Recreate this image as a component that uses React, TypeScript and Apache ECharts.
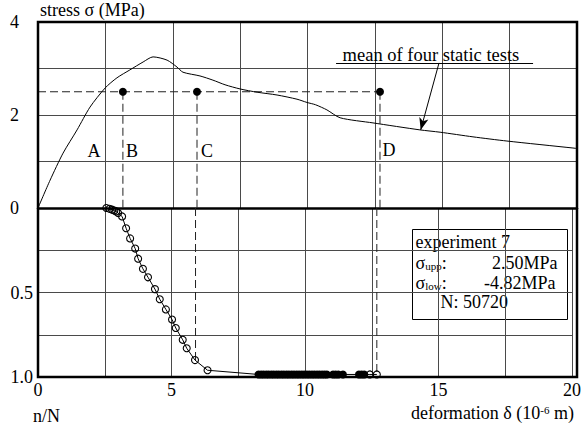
import React, { useEffect, useRef } from "react";
import * as echarts from "echarts";

// ---- data ----
// mean of four static tests: deformation (1e-6 m), stress (MPa)
const curveDelta = [0, 0.45, 0.93, 1.45, 1.93, 2.49, 2.93, 3.41, 3.9, 4.27, 4.79, 5.16, 5.38, 6.01, 6.49, 6.94, 7.5, 8.13, 8.87, 9.61, 9.98, 10.3, 10.72, 11.21, 12.43, 14.17, 14.92, 16.14, 17.4, 19.85, 20];
const curveStress = [0, 0.6, 1.18, 1.68, 2.17, 2.58, 2.8, 2.97, 3.14, 3.25, 3.18, 3.03, 2.92, 2.84, 2.75, 2.65, 2.56, 2.49, 2.43, 2.34, 2.27, 2.22, 2.11, 1.94, 1.83, 1.68, 1.63, 1.53, 1.44, 1.29, 1.28];

// upper stress level and marked points
const upperStress = 2.5;
const pointLabels = ["B", "C", "D"];
const pointDelta = [3.15, 5.9, 12.69];
const pointRatio = [0, 0.9, 0.985];

// letters A-D
const letterNames = ["A", "B", "C", "D"];
const letterDelta = [2.08, 3.49, 6.27, 13.02];
const letterStress = [1.22, 1.22, 1.22, 1.25];

// fatigue test: deformation vs n/N (hollow markers)
const fatigueDelta = [2.56, 2.68, 2.78, 2.86, 2.93, 3.0, 3.15, 3.3, 3.45, 3.64, 3.75, 3.93, 4.12, 4.38, 4.56, 4.79, 5.02, 5.16, 5.42, 5.57, 5.88, 6.35];
const fatigueRatio = [0, 0.005, 0.01, 0.015, 0.02, 0.03, 0.05, 0.12, 0.18, 0.24, 0.3, 0.36, 0.41, 0.48, 0.54, 0.6, 0.66, 0.71, 0.78, 0.83, 0.9, 0.96];
// dense final cycles (filled look)
const denseDelta = [8.26, 8.36, 8.45, 8.55, 8.64, 8.74, 8.83, 8.93, 9.02, 9.12, 9.21, 9.31, 9.4, 9.5, 9.59, 9.69, 9.78, 9.88, 9.97, 10.07, 10.16, 10.26, 10.35, 10.45, 10.54, 10.64, 10.73, 10.82, 11.05, 11.15, 11.25, 11.42, 12.02, 12.12, 12.22];
const denseRatio = [0.985, 0.985, 0.985, 0.985, 0.985, 0.985, 0.985, 0.985, 0.985, 0.985, 0.985, 0.985, 0.985, 0.985, 0.985, 0.985, 0.985, 0.985, 0.985, 0.985, 0.985, 0.985, 0.985, 0.985, 0.985, 0.985, 0.985, 0.985, 0.985, 0.985, 0.985, 0.985, 0.985, 0.985, 0.985];
const tailDelta = [12.43, 12.69];
const tailRatio = [0.985, 0.985];

const xTicks = [0, 5, 10, 15, 20];
const stressTicks = [0, 2, 4];
const ratioTicks: Record<string, string> = { "0.5": "0.5", "1": "1.0" };

// annotation: "mean of four static tests"
const noteText = "mean of four static tests";
const notePos = [14.58, 3.28];
const underline = [[11.06, 3.12], [18.37, 3.12]];
const arrow = [[14.88, 3.12], [14.2, 1.68]];

const FONT = '"Liberation Serif", "DejaVu Serif", "Times New Roman", serif';

export default function App() {
  const ref = useRef<HTMLDivElement>(null);
  useEffect(() => {
    if (!ref.current) return;
    const chart = echarts.init(ref.current, undefined, { renderer: "svg" });
    const L = 38, R = 577, T = 22, M = 208, B = 377;
    const gridLine = { show: true, lineStyle: { color: "#4a4a4a", width: 1 } };
    const txt = { fontFamily: FONT, fontSize: 18, color: "#000" };
    const lbl = { ...txt, textBorderWidth: 0, textShadowBlur: 0, opacity: 1 };

    const dashed = { color: "#222", width: 1, type: [8, 4] as any };
    const series: any[] = [];

    series.push({
      type: "line", xAxisIndex: 0, yAxisIndex: 0,
      data: curveDelta.map((d, i) => [d, curveStress[i]]),
      showSymbol: false, smooth: 0.25,
      lineStyle: { color: "#000", width: 1 },
      z: 5,
      markLine: {
        silent: true, symbol: ["none", "none"], label: { show: false },
        lineStyle: { color: "#000", width: 1, type: "solid" },
        data: [
          [{ coord: underline[0] }, { coord: underline[1] }],
          [{ coord: arrow[0], symbol: "none" }, { coord: arrow[1], symbol: "arrow", symbolSize: [7, 12] }],
        ],
      },
    });
    // horizontal dashed line at upper stress
    series.push({
      type: "line", xAxisIndex: 0, yAxisIndex: 0,
      data: [[0, upperStress], [pointDelta[pointDelta.length - 1], upperStress]],
      showSymbol: false, lineStyle: dashed, z: 4,
    });
    // vertical dashed lines
    pointDelta.forEach((d, i) => {
      series.push({
        type: "line", xAxisIndex: 0, yAxisIndex: 0,
        data: [[d, upperStress], [d, 0]], showSymbol: false, lineStyle: dashed, z: 4,
      });
      if (pointRatio[i] > 0) {
        series.push({
          type: "line", xAxisIndex: 1, yAxisIndex: 1,
          data: [[d, 0], [d, pointRatio[i]]], showSymbol: false, lineStyle: dashed, z: 4,
        });
      }
    });
    // marked points
    series.push({
      type: "scatter", xAxisIndex: 0, yAxisIndex: 0,
      data: pointDelta.map((d, i) => ({ name: pointLabels[i], value: [d, upperStress] })),
      symbol: "circle", symbolSize: 8, itemStyle: { color: "#000", opacity: 1 }, z: 6,
    });
    // letters
    series.push({
      type: "scatter", xAxisIndex: 0, yAxisIndex: 0,
      data: letterNames.map((n, i) => ({ name: n, value: [letterDelta[i], letterStress[i]] })),
      symbolSize: 0, itemStyle: { opacity: 1 },
      label: { show: true, position: "inside", formatter: (p: any) => p.name, ...lbl },
      z: 7,
    });
    // note text
    series.push({
      type: "scatter", xAxisIndex: 0, yAxisIndex: 0,
      data: [{ name: noteText, value: notePos }],
      symbolSize: 0, itemStyle: { opacity: 1 },
      label: { show: true, position: "inside", formatter: (p: any) => p.name, ...lbl, fontSize: 18.5 },
      z: 7,
    });
    // fatigue line through all points
    const allFatigue = [
      ...fatigueDelta.map((d, i) => [d, fatigueRatio[i]]),
      ...denseDelta.map((d, i) => [d, denseRatio[i]]),
      ...tailDelta.map((d, i) => [d, tailRatio[i]]),
    ];
    series.push({
      type: "line", xAxisIndex: 1, yAxisIndex: 1,
      data: allFatigue, showSymbol: false,
      lineStyle: { color: "#000", width: 1 }, z: 5,
    });
    series.push({
      type: "scatter", xAxisIndex: 1, yAxisIndex: 1,
      data: [...fatigueDelta.map((d, i) => [d, fatigueRatio[i]]), ...tailDelta.map((d, i) => [d, tailRatio[i]])],
      symbol: "circle", symbolSize: 7,
      itemStyle: { color: "none", borderColor: "#000", borderWidth: 1.1, opacity: 1 }, z: 6,
    });
    series.push({
      type: "scatter", xAxisIndex: 1, yAxisIndex: 1,
      data: denseDelta.map((d, i) => [d, denseRatio[i]]),
      symbol: "circle", symbolSize: 8,
      itemStyle: { color: "#000", opacity: 1 }, z: 6,
    });

    chart.setOption({
      animation: false,
      backgroundColor: "#fff",
      textStyle: { fontFamily: FONT },
      grid: [
        { left: L, right: 584 - R, top: T, height: M - T, show: false },
        { left: L, right: 584 - R, top: M, height: B - M, show: false },
      ],
      xAxis: [
        {
          gridIndex: 0, type: "value", min: 0, max: 20, interval: 2.5,
          axisLine: { show: true, onZero: false, lineStyle: { color: "#000", width: 2.5 } },
          axisTick: { show: false }, axisLabel: { show: false }, splitLine: gridLine, z: 3,
        },
        {
          gridIndex: 1, type: "value", min: 0, max: 20, interval: 2.5,
          axisLine: { show: false }, axisTick: { show: false },
          axisLabel: {
            ...txt, margin: 4, showMinLabel: true, showMaxLabel: true,
            formatter: (v: number) => (xTicks.includes(v) ? String(v) : ""),
          },
          splitLine: gridLine,
        },
      ],
      yAxis: [
        {
          gridIndex: 0, type: "value", min: 0, max: 4, interval: 1,
          axisLine: { show: false }, axisTick: { show: false },
          axisLabel: { ...txt, margin: 19, formatter: (v: number) => (stressTicks.includes(v) ? String(v) : "") },
          splitLine: gridLine,
        },
        {
          gridIndex: 1, type: "value", min: 0, max: 1, interval: 0.25, inverse: true,
          axisLine: { show: false }, axisTick: { show: false },
          axisLabel: { ...txt, margin: 5, formatter: (v: number) => ratioTicks[String(v)] ?? "" },
          splitLine: gridLine,
        },
      ],
      series,
      graphic: [
        {
          type: "rect", z: 100, silent: true,
          shape: { x: L, y: T, width: R - L, height: B - T },
          style: { fill: "none", stroke: "#000", lineWidth: 2.5 },
        },
        {
          type: "text", z: 100, left: 40, top: 1,
          style: { text: "stress σ (MPa)", ...txt, fill: "#000" },
        },
        {
          type: "text", z: 100, left: 33, top: 407,
          style: { text: "n/N", ...txt, fill: "#000" },
        },
        {
          type: "text", z: 100, right: 10, top: 404,
          style: {
            text: "{a|deformation δ (10}{p|-6}{a| m)}",
            rich: {
              a: { ...txt },
              p: { fontFamily: FONT, fontSize: 11, color: "#000", verticalAlign: "top", padding: [0, 0, 6, 0] },
            },
          },
        },
        {
          type: "group", left: 412, top: 229, z: 100,
          children: [
            { type: "rect", shape: { x: 0, y: 0, width: 155, height: 90 }, style: { fill: "#fff", stroke: "#000", lineWidth: 1 } },
            { type: "text", x: 3, y: 3, style: { text: "experiment 7", ...txt, fill: "#000" } },
            {
              type: "text", x: 3, y: 24,
              style: {
                text: "{m|σ}{s|upp}{m|:}",
                rich: { m: { ...txt }, s: { fontFamily: FONT, fontSize: 11, color: "#000", verticalAlign: "bottom", padding: [6, 0, 0, 0] } },
              },
            },
            { type: "text", x: 145, y: 24, style: { text: "2.50MPa", ...txt, fill: "#000", align: "right" } },
            {
              type: "text", x: 3, y: 44,
              style: {
                text: "{m|σ}{s|low}{m|:}",
                rich: { m: { ...txt }, s: { fontFamily: FONT, fontSize: 11, color: "#000", verticalAlign: "bottom", padding: [6, 0, 0, 0] } },
              },
            },
            { type: "text", x: 143, y: 44, style: { text: "-4.82MPa", ...txt, fill: "#000", align: "right" } },
            { type: "text", x: 28, y: 63, style: { text: "N: 50720", ...txt, fill: "#000" } },
          ],
        },
      ],
    });
    return () => chart.dispose();
  }, []);
  return <div ref={ref} style={{ width: 584, height: 431, position: "absolute", left: 0, top: 0 }} />;
}
